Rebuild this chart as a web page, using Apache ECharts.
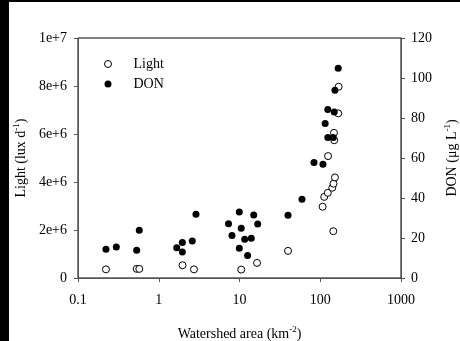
<!DOCTYPE html>
<html>
<head>
<meta charset="utf-8">
<script src="https://cdn.jsdelivr.net/npm/echarts@6/dist/echarts.min.js"></script>
<style>
  html, body { margin: 0; padding: 0; background: #000; }
  #chart { position: absolute; left: 9px; top: 2px; width: 451px; height: 339px; background: #fff; }
</style>
</head>
<body>
<div id="chart"></div>
<script>
// 集水區面積 (km2) 與光照 (Light)
const lightArea = [0.222, 0.533, 0.574, 1.97, 2.73, 10.5, 16.5, 39.9, 107, 112, 124, 141, 146, 152, 145, 125, 148, 149, 167, 169];
const lightValue = [0.36e6, 0.38e6, 0.38e6, 0.53e6, 0.36e6, 0.35e6, 0.63e6, 1.13e6, 2.97e6, 3.38e6, 3.55e6, 3.76e6, 3.93e6, 4.19e6, 1.95e6, 5.08e6, 6.05e6, 5.74e6, 6.86e6, 7.97e6];

// 集水區面積 (km2) 與 DON
const donArea = [0.222, 0.298, 0.533, 0.574, 1.67, 1.96, 1.96, 2.60, 2.89, 7.31, 8.07, 9.94, 10.5, 9.94, 11.6, 12.6, 14.0, 15.0, 16.8, 39.9, 59.4, 83.7, 108, 124, 145, 115, 124, 149, 152, 167];
const donValue = [14.4, 15.5, 13.9, 23.9, 15.1, 17.7, 13.0, 18.5, 31.9, 27.1, 21.2, 33.0, 24.9, 14.9, 19.4, 11.2, 19.9, 31.5, 27.0, 31.4, 39.4, 57.7, 56.9, 70.2, 70.2, 77.2, 84.2, 83.0, 93.9, 104.9];

const xTicks = [0.1, 1, 10, 100, 1000];

const FONT = 'Liberation Serif';
const axisColor = '#555';

const chart = echarts.init(document.getElementById('chart'));

// 1e+7 這種格式
function sciLabel(v) {
  if (v === 0) return '0';
  const exp = Math.floor(Math.log10(v));
  const mant = Math.round(v / Math.pow(10, exp) * 100) / 100;
  return mant + 'e+' + exp;
}

const nameRich = {
  a: { fontFamily: FONT, fontSize: 14, color: '#000', lineHeight: 18 },
  s: { fontFamily: FONT, fontSize: 9, color: '#000', lineHeight: 18, verticalAlign: 'top' }
};

const option = {
  animation: false,
  grid: {
    left: 69, right: 59, top: 36, bottom: 63,
    containLabel: false,
    outerBoundsMode: 'none',
    show: true, borderColor: '#000', borderWidth: 1, backgroundColor: 'transparent'
  },
  legend: {
    orient: 'vertical',
    left: 90,
    top: 50,
    itemWidth: 7,
    itemHeight: 7,
    itemGap: 6,
    icon: 'circle',
    textStyle: { fontFamily: FONT, fontSize: 14, color: '#000', padding: [0, 0, 0, 17] },
    data: [
      { name: 'Light', itemStyle: { color: '#fff', borderColor: '#000', borderWidth: 1 } },
      { name: 'DON', itemStyle: { color: '#000', borderWidth: 0 } }
    ]
  },
  xAxis: {
    type: 'log',
    logBase: 10,
    min: 0.1,
    max: 1000,
    name: '{a|Watershed area (km}{s|-2}{a|)}',
    nameLocation: 'middle',
    nameGap: 47,
    nameTextStyle: { rich: nameRich },
    axisLine: { lineStyle: { color: axisColor } },
    axisTick: { show: true, inside: false, length: 4, lineStyle: { color: axisColor } },
    minorTick: { show: false },
    splitLine: { show: false },
    axisLabel: {
      fontFamily: FONT, fontSize: 14, color: '#000', margin: 15,
      formatter: v => {
        const t = xTicks.find(k => Math.abs(k - v) / k < 1e-6);
        return t !== undefined ? String(t) : '';
      }
    }
  },
  yAxis: [
    {
      type: 'value',
      position: 'left',
      min: 0, max: 1e7, interval: 2e6,
      name: '{a|Light (lux d}{s|-1}{a|)}',
      nameLocation: 'middle',
      nameRotate: 90,
      nameGap: 47,
      nameTextStyle: { rich: nameRich },
      axisLine: { show: true, lineStyle: { color: axisColor } },
      axisTick: { show: true, length: 4, lineStyle: { color: axisColor } },
      splitLine: { show: false },
      axisLabel: { fontFamily: FONT, fontSize: 14, color: '#000', margin: 11, formatter: sciLabel }
    },
    {
      type: 'value',
      position: 'right',
      min: 0, max: 120, interval: 20,
      name: '{a|DON (μg L}{s|-1}{a|)}',
      nameLocation: 'middle',
      nameRotate: 90,
      nameGap: 38,
      nameTextStyle: { rich: nameRich },
      axisLine: { show: true, lineStyle: { color: axisColor } },
      axisTick: { show: true, length: 4, lineStyle: { color: axisColor } },
      splitLine: { show: false },
      axisLabel: { fontFamily: FONT, fontSize: 14, color: '#000', margin: 10 }
    }
  ],
  series: [
    {
      name: 'Light',
      type: 'scatter',
      yAxisIndex: 0,
      symbol: 'circle',
      symbolSize: 7,
      itemStyle: { color: '#fff', borderColor: '#000', borderWidth: 1, opacity: 1 },
      data: lightArea.map((x, i) => [x, lightValue[i]])
    },
    {
      name: 'DON',
      type: 'scatter',
      yAxisIndex: 1,
      symbol: 'circle',
      symbolSize: 7,
      itemStyle: { color: '#000', opacity: 1 },
      data: donArea.map((x, i) => [x, donValue[i]])
    }
  ]
};

chart.setOption(option);
</script>
</body>
</html>
